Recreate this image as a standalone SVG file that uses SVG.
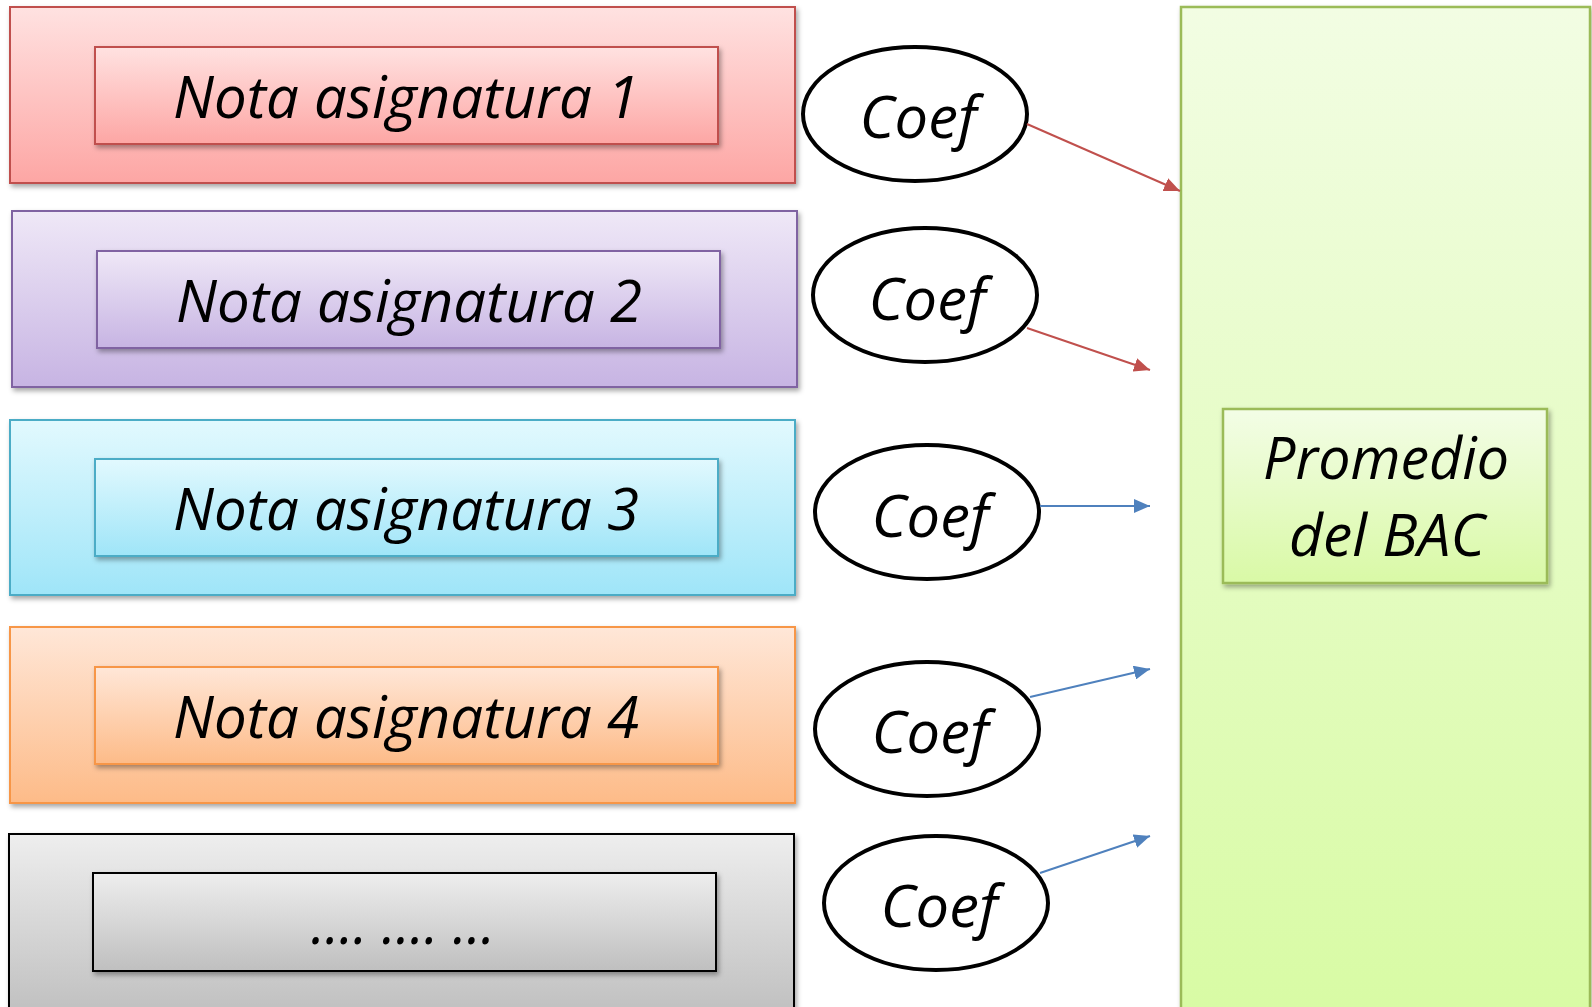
<svg xmlns="http://www.w3.org/2000/svg" width="1592" height="1007" viewBox="0 0 1592 1007">
<style>
.lbl{font-family:"Open Sans","Liberation Sans",sans-serif;font-style:italic;font-size:58px;fill:#000;text-anchor:middle}
.coef{font-family:"Open Sans","Liberation Sans",sans-serif;font-style:italic;font-size:58px;fill:#000;text-anchor:middle}
.ell{fill:#fff;stroke:#000;stroke-width:4}
.red{stroke:#c0504d;stroke-width:2;fill:none;marker-end:url(#ahR)}
.blue{stroke:#4f81bd;stroke-width:2;fill:none;marker-end:url(#ahB)}
</style>
<defs>
<filter id="sh" x="-5%" y="-10%" width="115%" height="130%">
<feDropShadow dx="2" dy="3" stdDeviation="2.5" flood-color="#000" flood-opacity="0.35"/>
</filter>
<linearGradient id="gR" x1="0" y1="0" x2="0" y2="1"><stop offset="0" stop-color="#ffe2e1"/><stop offset="1" stop-color="#fda6a4"/></linearGradient>
<linearGradient id="gP" x1="0" y1="0" x2="0" y2="1"><stop offset="0" stop-color="#efe8f7"/><stop offset="1" stop-color="#c7b4e3"/></linearGradient>
<linearGradient id="gC" x1="0" y1="0" x2="0" y2="1"><stop offset="0" stop-color="#e2f9fe"/><stop offset="1" stop-color="#9fe5f8"/></linearGradient>
<linearGradient id="gO" x1="0" y1="0" x2="0" y2="1"><stop offset="0" stop-color="#ffe7d8"/><stop offset="1" stop-color="#fdbb88"/></linearGradient>
<linearGradient id="gG" x1="0" y1="0" x2="0" y2="1"><stop offset="0" stop-color="#eeeeee"/><stop offset="1" stop-color="#bfbfbf"/></linearGradient>
<linearGradient id="gV" x1="0" y1="0" x2="0" y2="1"><stop offset="0" stop-color="#f2fde3"/><stop offset="1" stop-color="#d8fba4"/></linearGradient>
<linearGradient id="gVi" x1="0" y1="0" x2="0" y2="1"><stop offset="0" stop-color="#f3fde6"/><stop offset="1" stop-color="#d9f9a6"/></linearGradient>
<marker id="ahR" markerUnits="userSpaceOnUse" markerWidth="18" markerHeight="14" refX="16" refY="7" orient="auto"><path d="M0,0 L16,7 L0,14 Z" fill="#c0504d"/></marker>
<marker id="ahB" markerUnits="userSpaceOnUse" markerWidth="18" markerHeight="14" refX="16" refY="7" orient="auto"><path d="M0,0 L16,7 L0,14 Z" fill="#4f81bd"/></marker>
</defs>
<rect width="1592" height="1007" fill="#fff"/>

<g id="promedio">
<rect x="1181" y="7" width="409" height="1010" fill="url(#gV)" stroke="#9bbb59" stroke-width="2.5" filter="url(#sh)"/>
<rect x="1223" y="409" width="324" height="174" fill="url(#gVi)" stroke="#9bbb59" stroke-width="2.5" filter="url(#sh)"/>
<text class="lbl" x="1386" y="479" textLength="246" lengthAdjust="spacingAndGlyphs">Promedio</text>
<text class="lbl" x="1387" y="556" textLength="196" lengthAdjust="spacingAndGlyphs">del BAC</text>
</g>

<g id="nota1">
<rect x="10" y="7" width="785" height="176" fill="url(#gR)" stroke="#c0504d" stroke-width="2" filter="url(#sh)"/>
<rect x="95" y="47" width="623" height="97" fill="url(#gR)" stroke="#c0504d" stroke-width="2" filter="url(#sh)"/>
<text class="lbl" x="406" y="118" textLength="466" lengthAdjust="spacingAndGlyphs">Nota asignatura 1</text>
</g>
<g id="nota2">
<rect x="12" y="211" width="785" height="176" fill="url(#gP)" stroke="#8064a2" stroke-width="2" filter="url(#sh)"/>
<rect x="97" y="251" width="623" height="97" fill="url(#gP)" stroke="#8064a2" stroke-width="2" filter="url(#sh)"/>
<text class="lbl" x="409" y="322" textLength="466" lengthAdjust="spacingAndGlyphs">Nota asignatura 2</text>
</g>
<g id="nota3">
<rect x="10" y="420" width="785" height="175" fill="url(#gC)" stroke="#4bacc6" stroke-width="2" filter="url(#sh)"/>
<rect x="95" y="459" width="623" height="97" fill="url(#gC)" stroke="#4bacc6" stroke-width="2" filter="url(#sh)"/>
<text class="lbl" x="406" y="530" textLength="466" lengthAdjust="spacingAndGlyphs">Nota asignatura 3</text>
</g>
<g id="nota4">
<rect x="10" y="627" width="785" height="176" fill="url(#gO)" stroke="#f79646" stroke-width="2" filter="url(#sh)"/>
<rect x="95" y="667" width="623" height="97" fill="url(#gO)" stroke="#f79646" stroke-width="2" filter="url(#sh)"/>
<text class="lbl" x="406" y="738" textLength="466" lengthAdjust="spacingAndGlyphs">Nota asignatura 4</text>
</g>
<g id="nota5">
<rect x="9" y="834" width="785" height="183" fill="url(#gG)" stroke="#000" stroke-width="2" filter="url(#sh)"/>
<rect x="93" y="873" width="623" height="98" fill="url(#gG)" stroke="#000" stroke-width="2" filter="url(#sh)"/>
<text class="lbl" x="403" y="944" textLength="184" lengthAdjust="spacingAndGlyphs">…. …. …</text>
</g>

<g id="coef1"><ellipse class="ell" cx="915" cy="114" rx="112" ry="67"/><text class="coef" x="918" y="138" textLength="117" lengthAdjust="spacingAndGlyphs">Coef</text></g>
<g id="coef2"><ellipse class="ell" cx="925" cy="295" rx="112" ry="67"/><text class="coef" x="927" y="320" textLength="117" lengthAdjust="spacingAndGlyphs">Coef</text></g>
<g id="coef3"><ellipse class="ell" cx="927" cy="512" rx="112" ry="67"/><text class="coef" x="930" y="537" textLength="117" lengthAdjust="spacingAndGlyphs">Coef</text></g>
<g id="coef4"><ellipse class="ell" cx="927" cy="729" rx="112" ry="67"/><text class="coef" x="930" y="753" textLength="117" lengthAdjust="spacingAndGlyphs">Coef</text></g>
<g id="coef5"><ellipse class="ell" cx="936" cy="903" rx="112" ry="67"/><text class="coef" x="939" y="927" textLength="117" lengthAdjust="spacingAndGlyphs">Coef</text></g>

<g id="connectors">
<line class="red" x1="1027" y1="124" x2="1180" y2="191"/>
<line class="red" x1="1027" y1="328" x2="1150" y2="370"/>
<line class="blue" x1="1040" y1="506" x2="1150" y2="506"/>
<line class="blue" x1="1030" y1="697" x2="1150" y2="669"/>
<line class="blue" x1="1040" y1="873" x2="1150" y2="836"/>
</g>
</svg>
